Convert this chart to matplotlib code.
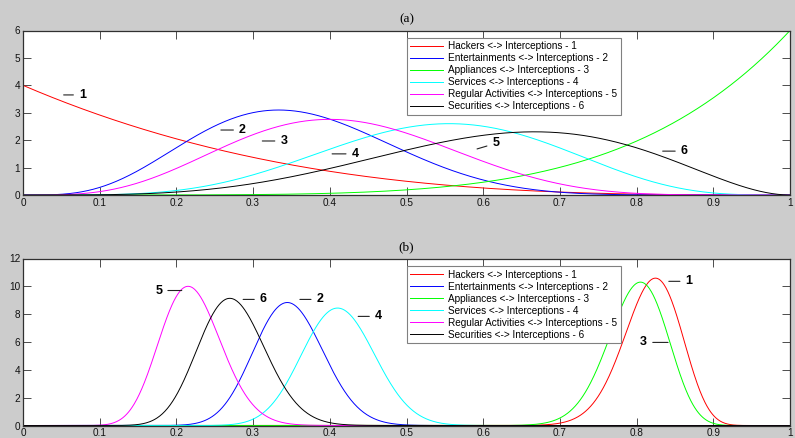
import math
import numpy as np
import matplotlib
matplotlib.use("Agg")
import matplotlib.pyplot as plt

# ---- data -------------------------------------------------------------
labels = ["Hackers <-> Interceptions - 1",
          "Entertainments <-> Interceptions - 2",
          "Appliances <-> Interceptions - 3",
          "Services <-> Interceptions - 4",
          "Regular Activities <-> Interceptions - 5",
          "Securities <-> Interceptions - 6"]
colors = ["#ff0000", "#0000ff", "#00ff00", "#00ffff", "#ff00ff", "#000000"]

# Beta-distribution shape parameters (alpha, beta)
alpha_a = [1.0, 5.0, 6.0, 6.0, 5.0, 5.0]
beta_a = [4.0, 9.0, 1.0, 5.0, 7.0, 3.0]
alpha_b = [84.2, 38.7, 84.4, 44.8, 23.6, 28.5]
beta_b = [18.7, 72.7, 21.2, 64.0, 83.4, 75.5]

xticks = [0, 0.1, 0.2, 0.3, 0.4, 0.5, 0.6, 0.7, 0.8, 0.9, 1]
xticklabels = ["0", "0.1", "0.2", "0.3", "0.4", "0.5", "0.6", "0.7", "0.8", "0.9", "1"]
yticks_a = [0, 1, 2, 3, 4, 5, 6]
yticks_b = [0, 2, 4, 6, 8, 10, 12]

# curve number labels: (digit, x, y, dx, dy) in data / offset points
tags_a = [("1", 0.053, 3.65, 11, 0), ("2", 0.258, 2.37, 13, 0),
          ("3", 0.312, 1.97, 13, 0), ("4", 0.403, 1.50, 14, 0),
          ("5", 0.592, 1.68, 11, 4), ("6", 0.834, 1.60, 13, 0)]
tags_b = [("5", 0.207, 9.70, -14, 0), ("6", 0.287, 9.06, 12, 0),
          ("2", 0.361, 9.06, 12, 0), ("4", 0.437, 7.84, 12, 0),
          ("1", 0.842, 10.36, 12, 0), ("3", 0.841, 5.97, -15, 0)]


def beta_pdf(x, a, b):
    lnB = math.lgamma(a) + math.lgamma(b) - math.lgamma(a + b)
    return np.power(x, a - 1) * np.power(1 - x, b - 1) * math.exp(-lnB)


x = np.linspace(0, 1, 1201)

plt.rcParams['font.family'] = ['Liberation Sans', 'DejaVu Sans']
fig = plt.figure(figsize=(7.95, 4.38), dpi=100, facecolor="#cccccc")

ax_a = fig.add_axes([23 / 795, 1 - 195 / 438, 767 / 795, 164.5 / 438])
ax_b = fig.add_axes([23 / 795, 1 - 425.5 / 438, 767 / 795, 167 / 438])


def style(ax, yticks, ymax, title):
    ax.set_facecolor("white")
    ax.set_xlim(0, 1)
    ax.set_ylim(0, ymax)
    ax.set_xticks(xticks)
    ax.set_xticklabels(xticklabels)
    ax.set_yticks(yticks)
    ax.tick_params(direction="in", length=5.5, width=0.6, colors="#303030",
                   labelsize=7.2, labelcolor="#111111", pad=2,
                   top=True, right=True)
    for s in ax.spines.values():
        s.set_color("#303030")
        s.set_linewidth(0.9)
    ax.set_title(title, family=["Liberation Serif", "DejaVu Serif"],
                 fontsize=9.5, pad=6)


for i in range(6):
    ax_a.plot(x, beta_pdf(x, alpha_a[i], beta_a[i]), color=colors[i],
              lw=0.7, label=labels[i])
    ax_b.plot(x, beta_pdf(x, alpha_b[i], beta_b[i]), color=colors[i],
              lw=0.7, label=labels[i])

style(ax_a, yticks_a, 6, "(a)")
style(ax_b, yticks_b, 12, "(b)")

for ax in (ax_a, ax_b):
    leg = ax.legend(loc="upper left", bbox_to_anchor=(0.5005, 0.955),
                    fontsize=7.2, frameon=True, fancybox=False,
                    framealpha=1, edgecolor="#808080", borderpad=0.35,
                    labelspacing=0.2, handlelength=3.3, handletextpad=0.5,
                    borderaxespad=0)
    leg.get_frame().set_linewidth(0.8)


def tag(ax, items):
    for d, tx, ty, dx, dy in items:
        ax.annotate(d, xy=(tx, ty), xycoords="data",
                    xytext=(dx, dy), textcoords="offset points",
                    fontsize=9, fontweight="bold", va="center",
                    ha="left" if dx > 0 else "right",
                    arrowprops=dict(arrowstyle="-", color="#222222",
                                    lw=0.8, shrinkA=2, shrinkB=0))


tag(ax_a, tags_a)
tag(ax_b, tags_b)

fig.savefig("out.png", dpi=100, facecolor=fig.get_facecolor())
